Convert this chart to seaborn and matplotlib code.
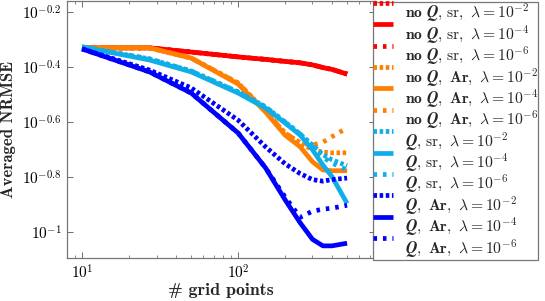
import matplotlib
matplotlib.use("Agg")
import matplotlib.pyplot as plt
import numpy as np
import pandas as pd
import seaborn as sns
from matplotlib.legend_handler import HandlerLine2D
from matplotlib.ticker import FixedLocator, FixedFormatter, LogLocator, NullFormatter

# grid sizes used for every series
grid_points = [10, 27, 50, 100, 150, 200, 250, 300, 350, 400, 500]

# averaged NRMSE
noq_sr_l2 = [0.467, 0.467, 0.451, 0.433, 0.424, 0.417, 0.412, 0.405, 0.396, 0.390, 0.375]
noq_sr_l4 = [0.467, 0.467, 0.451, 0.433, 0.424, 0.417, 0.412, 0.405, 0.396, 0.390, 0.375]
noq_sr_l6 = [0.467, 0.467, 0.451, 0.433, 0.424, 0.417, 0.412, 0.405, 0.396, 0.390, 0.375]
noq_ar_l2 = [0.467, 0.467, 0.429, 0.348, 0.275, 0.229, 0.211, 0.199, 0.195, 0.194, 0.194]
noq_ar_l4 = [0.467, 0.467, 0.429, 0.345, 0.273, 0.225, 0.204, 0.180, 0.168, 0.167, 0.167]
noq_ar_l6 = [0.467, 0.467, 0.429, 0.348, 0.275, 0.229, 0.211, 0.207, 0.212, 0.222, 0.239]
q_sr_l2 = [0.471, 0.426, 0.385, 0.323, 0.285, 0.251, 0.227, 0.207, 0.191, 0.183, 0.174]
q_sr_l4 = [0.471, 0.422, 0.382, 0.320, 0.282, 0.249, 0.225, 0.199, 0.175, 0.159, 0.127]
q_sr_l6 = [0.471, 0.426, 0.385, 0.323, 0.285, 0.251, 0.227, 0.205, 0.187, 0.178, 0.168]
q_ar_l2 = [0.463, 0.388, 0.334, 0.255, 0.204, 0.177, 0.163, 0.155, 0.153, 0.155, 0.157]
q_ar_l4 = [0.463, 0.382, 0.320, 0.229, 0.171, 0.131, 0.108, 0.094, 0.089, 0.089, 0.091]
q_ar_l6 = [0.463, 0.382, 0.320, 0.229, 0.171, 0.134, 0.113, 0.119, 0.121, 0.122, 0.125]

labels = [
    r"$\mathbf{no}\ \mathbfit{Q}\mathbf{,}\ \mathrm{sr,}\ \lambda = 10^{-2}$",
    r"$\mathbf{no}\ \mathbfit{Q}\mathbf{,}\ \mathrm{sr,}\ \lambda = 10^{-4}$",
    r"$\mathbf{no}\ \mathbfit{Q}\mathbf{,}\ \mathrm{sr,}\ \lambda = 10^{-6}$",
    r"$\mathbf{no}\ \mathbfit{Q}\mathbf{,\ Ar,}\ \lambda = 10^{-2}$",
    r"$\mathbf{no}\ \mathbfit{Q}\mathbf{,\ Ar,}\ \lambda = 10^{-4}$",
    r"$\mathbf{no}\ \mathbfit{Q}\mathbf{,\ Ar,}\ \lambda = 10^{-6}$",
    r"$\mathbfit{Q}\mathbf{,}\ \mathrm{sr,}\ \lambda = 10^{-2}$",
    r"$\mathbfit{Q}\mathbf{,}\ \mathrm{sr,}\ \lambda = 10^{-4}$",
    r"$\mathbfit{Q}\mathbf{,}\ \mathrm{sr,}\ \lambda = 10^{-6}$",
    r"$\mathbfit{Q}\mathbf{,\ Ar,}\ \lambda = 10^{-2}$",
    r"$\mathbfit{Q}\mathbf{,\ Ar,}\ \lambda = 10^{-4}$",
    r"$\mathbfit{Q}\mathbf{,\ Ar,}\ \lambda = 10^{-6}$",
]
series = [noq_sr_l2, noq_sr_l4, noq_sr_l6, noq_ar_l2, noq_ar_l4, noq_ar_l6,
          q_sr_l2, q_sr_l4, q_sr_l6, q_ar_l2, q_ar_l4, q_ar_l6]

colors = ["#ff0000"] * 3 + ["#ff8000"] * 3 + ["#10aee8"] * 3 + ["#0000ff"] * 3
styles = [(0, (0.75, 0.55)), "-", (0, (0.75, 1.25))] * 4

sns.set_theme(style="ticks")
plt.rcParams["font.family"] = ["serif"]
plt.rcParams["mathtext.fontset"] = "cm"
plt.rcParams["axes.unicode_minus"] = False

fig, ax = plt.subplots(figsize=(5.45, 3.01), dpi=100)
fig.subplots_adjust(left=67 / 545, right=375 / 545, bottom=1 - 258 / 301, top=0.997)

for vals, lab, col, ls in zip(series, labels, colors, styles):
    df = pd.DataFrame({"n": grid_points, "nrmse": vals})
    sns.lineplot(data=df, x="n", y="nrmse", ax=ax, color=col, lw=3.4,
                 label=lab, solid_capstyle="butt", dash_capstyle="butt")
    ax.lines[-1].set_linestyle(ls)

ax.set_xscale("log")
ax.set_yscale("log")
ax.set_xlim(8.0, 755)
ax.set_ylim(0.0804, 0.692)

yt = [10 ** -1, 10 ** -0.8, 10 ** -0.6, 10 ** -0.4, 10 ** -0.2]
ax.yaxis.set_major_locator(FixedLocator(yt))
ax.yaxis.set_major_formatter(FixedFormatter(
    [r"$10^{-1}$", r"$10^{-0.8}$", r"$10^{-0.6}$", r"$10^{-0.4}$", r"$10^{-0.2}$"]))
ax.yaxis.set_minor_locator(FixedLocator([]))
ax.xaxis.set_major_locator(FixedLocator([10, 100]))
ax.xaxis.set_major_formatter(FixedFormatter([r"$10^{1}$", r"$10^{2}$"]))
ax.xaxis.set_minor_locator(LogLocator(base=10, subs=np.arange(2, 10)))
ax.xaxis.set_minor_formatter(NullFormatter())

ax.tick_params(which="both", direction="in", top=True, right=True,
               colors="#555555", labelcolor="black", labelsize=11)
ax.tick_params(which="major", length=4, width=0.6, pad=4)
ax.tick_params(which="minor", length=2.5, width=0.5)
for sp in ax.spines.values():
    sp.set_color("#777777")
    sp.set_linewidth(0.9)

ax.set_xlabel("# grid points", fontfamily="cmb10", fontsize=12.8, labelpad=1)
ax.set_ylabel("Averaged NRMSE", fontfamily="cmb10", fontsize=12, labelpad=4)


class RaisedLine(HandlerLine2D):
    # pgfplots style: sample line sits above its label
    def create_artists(self, legend, orig_handle, xdescent, ydescent,
                       width, height, fontsize, trans):
        arts = super().create_artists(legend, orig_handle, xdescent, ydescent,
                                      width, height, fontsize, trans)
        for a in arts:
            a.set_ydata(np.asarray(a.get_ydata()) + 0.62 * fontsize)
        return arts


handles, labs = ax.get_legend_handles_labels()
leg = fig.legend(handles, labs, loc="lower left",
                 bbox_to_anchor=(373 / 545, 1 - 259.5 / 301),
                 fontsize=11.3, frameon=True, fancybox=False, edgecolor="#777777",
                 framealpha=1, handlelength=1.3, handletextpad=0.75,
                 labelspacing=-0.06, borderpad=0.0, borderaxespad=0,
                 handler_map={matplotlib.lines.Line2D: RaisedLine()})
leg.get_frame().set_linewidth(0.9)
ax.get_legend().remove()

fig.savefig("out.png", dpi=100)
